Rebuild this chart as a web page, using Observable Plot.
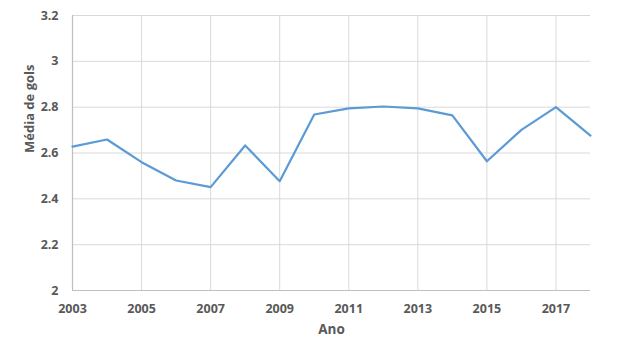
<!DOCTYPE html>
<html>
<head>
<meta charset="utf-8">
<script src="https://cdn.jsdelivr.net/npm/d3@7"></script>
<script src="https://cdn.jsdelivr.net/npm/@observablehq/plot@0.6"></script>
<style>
  html, body { margin: 0; padding: 0; background: #fff; }
  #chart svg { display: block; }
</style>
</head>
<body>
<div id="chart"></div>
<script>
const years = [2003, 2004, 2005, 2006, 2007, 2008, 2009, 2010, 2011, 2012, 2013, 2014, 2015, 2016, 2017, 2018];
const mediaGols = [2.628, 2.659, 2.56, 2.48, 2.451, 2.633, 2.477, 2.768, 2.795, 2.803, 2.795, 2.764, 2.564, 2.701, 2.80, 2.676];
const xTicks = [2003, 2005, 2007, 2009, 2011, 2013, 2015, 2017];
const yTicks = [2, 2.2, 2.4, 2.6, 2.8, 3, 3.2];
const xLabel = "Ano";
const yLabel = "Média de gols";

const data = years.map((y, i) => ({ano: y, media: mediaGols[i]}));
const font = "'Open Sans', sans-serif";

const chart = Plot.plot({
  width: 619,
  height: 358,
  marginLeft: 72,
  marginRight: 29,
  marginTop: 15,
  marginBottom: 68,
  style: { fontFamily: font, background: "#fff" },
  x: { domain: [2003, 2018] },
  y: { domain: [2, 3.2] },
  marks: [
    Plot.ruleX(xTicks.filter(d => d !== 2003), { stroke: "#d9d9d9", strokeWidth: 1 }),
    Plot.ruleY(yTicks.filter(d => d !== 2), { stroke: "#d9d9d9", strokeWidth: 1 }),
    Plot.ruleY([2], { stroke: "#bfbfbf", strokeWidth: 1.2 }),
    Plot.ruleX([2003], { stroke: "#bfbfbf", strokeWidth: 1.2 }),
    Plot.axisX({ ticks: xTicks, tickFormat: d => String(d), tickSize: 0, tickPadding: 14, label: null, fontSize: 12.5, fontWeight: "bold", fill: "#595959" }),
    Plot.axisY({ ticks: yTicks, tickFormat: d => String(d), tickSize: 0, tickPadding: 14, label: null, fontSize: 12.5, fontWeight: "bold", fill: "#595959" }),
    Plot.line(data, { x: "ano", y: "media", stroke: "#5b9bd5", strokeWidth: 2.2, strokeLinejoin: "round" }),
    Plot.text([xLabel], { frameAnchor: "bottom", dy: 43, fontSize: 13.5, fontWeight: "bold", fill: "#595959" }),
    Plot.text([yLabel], { frameAnchor: "left", dx: -43, rotate: -90, fontSize: 13, fontWeight: "bold", fill: "#595959" })
  ]
});
document.getElementById("chart").appendChild(chart);
</script>
</body>
</html>
